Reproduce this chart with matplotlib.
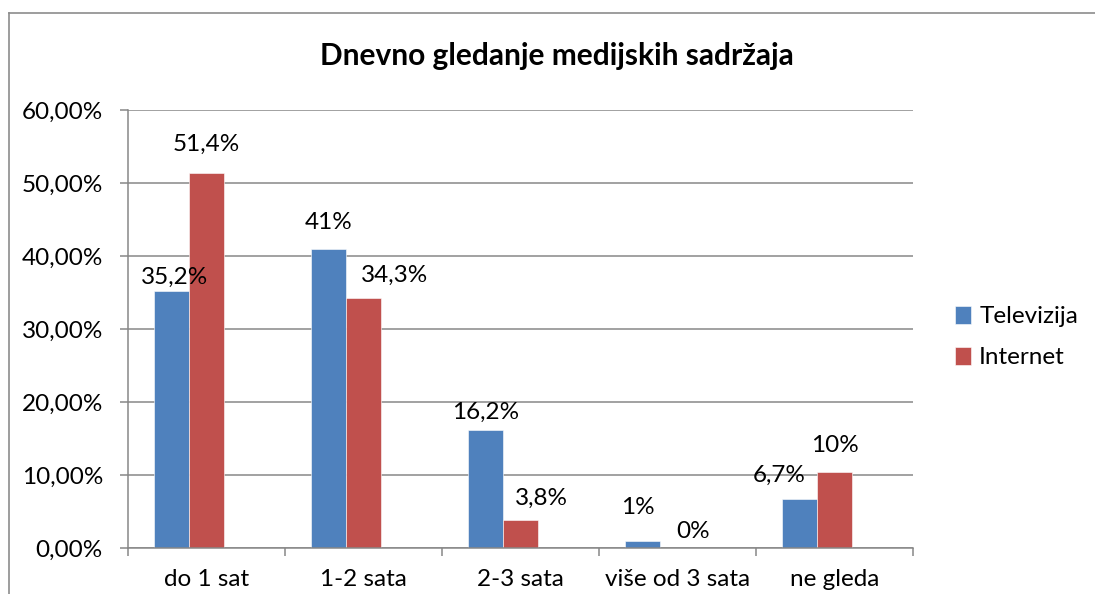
import matplotlib
matplotlib.use("Agg")
import matplotlib.pyplot as plt
from matplotlib.lines import Line2D
from matplotlib.ticker import FuncFormatter, MultipleLocator

categories = ["do 1 sat", "1-2 sata", "2-3 sata", "više od 3 sata", "ne gleda"]
televizija = [35.2, 41.0, 16.2, 1.0, 6.7]
internet = [51.4, 34.3, 3.8, 0.0, 10.45]
tv_labels = ["35,2%", "41%", "16,2%", "1%", "6,7%"]
inet_labels = ["51,4%", "34,3%", "3,8%", "0%", "10%"]
series_names = ["Televizija", "Internet"]
title = "Dnevno gledanje medijskih sadržaja"

# label offsets (pixels) from bar top-centre, manually placed as in reference
tv_off = [(3, 14), (0, 26), (0, 17), (-5, 33), (-21, 24)]
inet_off = [(0, 28), (31, 22), (21, 22), (16, 17), (0, 26)]

BLUE = "#4F81BD"
RED = "#C0504D"
GRID = "#878787"
FONT = "Lato"
FS = 17.5

plt.rcParams['font.family'] = [FONT, 'DejaVu Sans']

W, H = 1095, 594
fig = plt.figure(figsize=(W / 100, H / 100), dpi=100)
ax = fig.add_axes([128 / W, 1 - 548 / H, (913 - 128) / W, (548 - 110) / H])

x = list(range(len(categories)))
bw = 0.221
tv_x = [i - bw for i in x]
in_x = [i for i in x]
ax.bar(tv_x, televizija, width=bw, color=BLUE, edgecolor="white", linewidth=0.4, zorder=3, label=series_names[0])
ax.bar(in_x, internet, width=bw, color=RED, edgecolor="white", linewidth=0.4, zorder=3, label=series_names[1])

for xs, vals, labs, offs in ((tv_x, televizija, tv_labels, tv_off), (in_x, internet, inet_labels, inet_off)):
    for xi, v, lab, (dx, dy) in zip(xs, vals, labs, offs):
        ax.annotate(lab, (xi, v), xytext=(dx, dy), textcoords="offset pixels",
                    ha="center", va="center", fontsize=FS, color="black", zorder=5)

ax.set_xlim(-0.5, len(categories) - 0.5)
ax.set_ylim(0, 60)
ax.yaxis.set_major_locator(MultipleLocator(10))
ax.yaxis.set_major_formatter(FuncFormatter(lambda v, p: f"{v:.2f}".replace(".", ",") + "%"))
ax.grid(axis="y", color=GRID, linewidth=1.1, zorder=0)
ax.set_axisbelow(True)

for s in ("top", "right"):
    ax.spines[s].set_visible(False)
for s in ("left", "bottom"):
    ax.spines[s].set_color(GRID)
    ax.spines[s].set_linewidth(1.1)
    ax.spines[s].set_zorder(4)

ax.set_xticks([i - 0.5 for i in range(len(categories) + 1)])
ax.set_xticklabels([])
ax.set_xticks(x, minor=True)
ax.set_xticklabels(categories, minor=True, fontsize=FS)
ax.tick_params(axis="x", which="major", length=6, width=1.1, color=GRID, direction="out")
ax.tick_params(axis="x", which="minor", length=0, pad=15)
ax.tick_params(axis="y", length=6, width=1.1, color=GRID, direction="out", pad=12, labelsize=FS)

fig.text(557 / W, 1 - 56 / H, title, ha="center", va="center", fontsize=21.5, fontweight="bold")

leg = ax.legend(loc="center left", bbox_to_anchor=(933 / W, 1 - 337 / H), bbox_transform=fig.transFigure,
                frameon=False, fontsize=FS, handlelength=0.65, handleheight=0.75, handletextpad=0.35,
                labelspacing=0.8)

# outer chart frame (top and left edges visible)
fig.add_artist(Line2D([9 / W, 9 / W], [0, 1 - 13 / H], transform=fig.transFigure, color="#8c8c8c", linewidth=1.2))
fig.add_artist(Line2D([9 / W, 1], [1 - 13 / H, 1 - 13 / H], transform=fig.transFigure, color="#8c8c8c", linewidth=1.2))

fig.savefig("out.png", dpi=100)
